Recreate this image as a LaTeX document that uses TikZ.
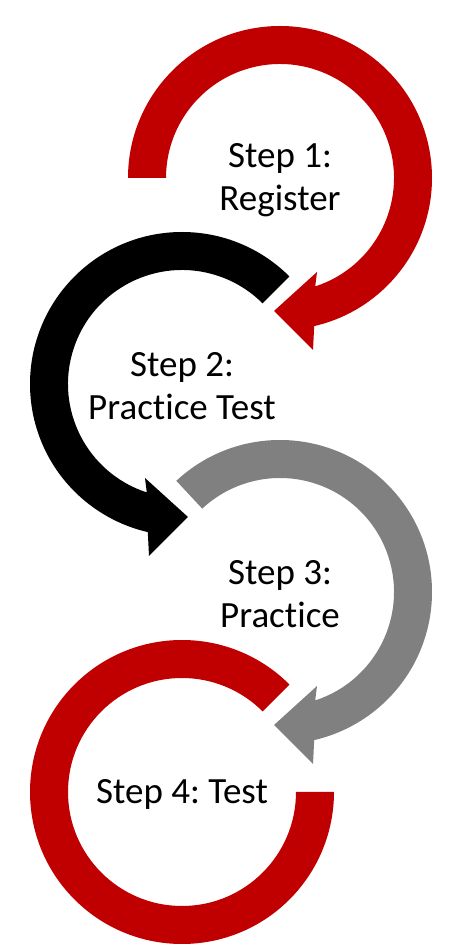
\documentclass[tikz,border=0pt]{standalone}
\usepackage{fontspec}
\setmainfont[Ligatures=NoCommon]{Carlito}
\usepackage{xcolor}
\usepackage{tikz}
\usetikzlibrary{calc}
\definecolor{myred}{RGB}{192,0,0}
\definecolor{mygray}{RGB}{128,128,128}
\frenchspacing

\begin{document}
\begin{tikzpicture}[
    x=1pt, y=1pt,
    steptext/.style={align=center, font=\fontsize{37}{43}\selectfont, text=black},
    stepring/.style={fill=#1, draw=none},
]
    \useasboundingbox (0,0) rectangle (474,946);

    % Step 1
    \node[steptext] (s1) at (280,766) {Step 1:\\Register};
    \fill[stepring=myred, shift={(280,768)}] (180:152) arc[start angle=180, end angle=-77, radius=152]
        -- (33,-172) -- (-6,-133) -- (37,-94)
        -- (-72:114) arc[start angle=-72, end angle=180, radius=114] -- cycle;

    % Step 2
    \node[steptext] (s2) at (182,560) {Step 2:\\Practice Test};
    \fill[stepring=black, shift={(182,562)}] (45:152) arc[start angle=45, end angle=257, radius=152]
        -- (-33,-172) -- (6,-133) -- (-37,-94)
        -- (252:114) arc[start angle=252, end angle=45, radius=114] -- cycle;

    % Step 3
    \node[steptext] (s3) at (280,352) {Step 3:\\Practice};
    \fill[stepring=mygray, shift={(280,354)}] (133:152) arc[start angle=133, end angle=-77, radius=152]
        -- (33,-172) -- (-6,-133) -- (37,-94)
        -- (-72:114) arc[start angle=-72, end angle=133, radius=114] -- cycle;

    % Step 4
    \node[steptext] (s4) at (182,152) {Step 4: Test};
    \fill[stepring=myred, shift={(182,154)}] (45:152) arc[start angle=45, end angle=360, radius=152]
        -- (0:114) arc[start angle=360, end angle=45, radius=114] -- cycle;
\end{tikzpicture}
\end{document}
